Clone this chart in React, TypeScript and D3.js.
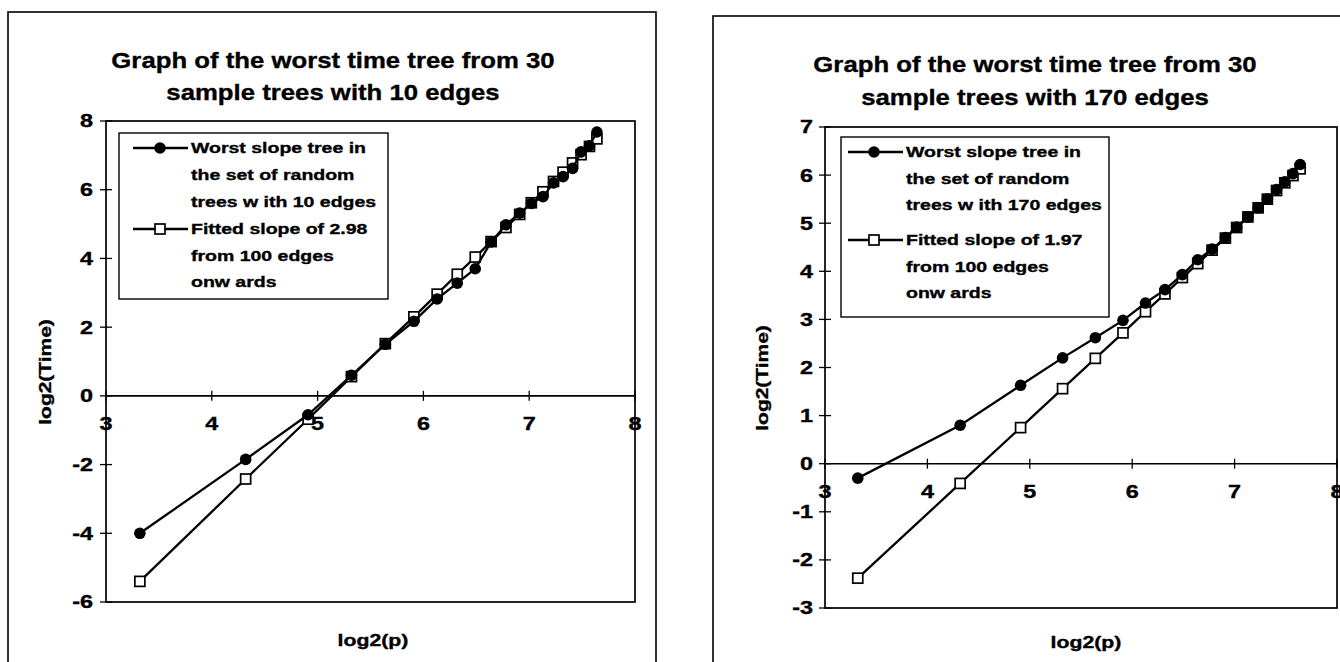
import React from "react";
import * as d3 from "d3";

// ---------- data ----------
const log2P = [3.32, 4.32, 4.91, 5.32, 5.64, 5.91, 6.13, 6.32, 6.49, 6.64, 6.78, 6.91, 7.02, 7.13, 7.23, 7.32, 7.41, 7.49, 7.57, 7.64];

const worst10 = [-4.0, -1.85, -0.55, 0.6, 1.5, 2.17, 2.82, 3.28, 3.7, 4.48, 4.98, 5.32, 5.6, 5.8, 6.2, 6.38, 6.62, 7.1, 7.28, 7.68];
const fitted10 = [-5.4, -2.42, -0.68, 0.56, 1.52, 2.3, 2.96, 3.54, 4.04, 4.49, 4.9, 5.28, 5.62, 5.94, 6.24, 6.51, 6.78, 7.02, 7.26, 7.48];

const worst170 = [-0.3, 0.8, 1.63, 2.2, 2.62, 2.98, 3.34, 3.62, 3.93, 4.24, 4.46, 4.7, 4.92, 5.13, 5.32, 5.5, 5.7, 5.86, 6.03, 6.22];
const fitted170 = [-2.38, -0.41, 0.75, 1.56, 2.19, 2.72, 3.16, 3.53, 3.87, 4.16, 4.44, 4.69, 4.91, 5.13, 5.32, 5.5, 5.68, 5.84, 5.99, 6.13];

const xTicks = [3, 4, 5, 6, 7, 8];
const yTicks10 = [-6, -4, -2, 0, 2, 4, 6, 8];
const yTicks170 = [-3, -2, -1, 0, 1, 2, 3, 4, 5, 6, 7];

const title10 = ["Graph of the worst time tree from 30", "sample trees with 10 edges"];
const title170 = ["Graph of the worst time tree from 30", "sample trees with 170 edges"];

const legendWorst10 = ["Worst slope tree in", "the set of random", "trees w ith 10 edges"];
const legendFit10 = ["Fitted slope of 2.98", "from 100 edges", "onw ards"];
const legendWorst170 = ["Worst slope tree in", "the set of random", "trees w ith 170 edges"];
const legendFit170 = ["Fitted slope of 1.97", "from 100 edges", "onw ards"];

const xTitle = "log2(p)";
const yTitle = "log2(Time)";

// ---------- drawing ----------
const FONT = "'Liberation Sans', Arial, Helvetica, sans-serif";

function SText({ x, y, size, sx, anchor = "middle", rotate = 0, children, weight = "bold" }) {
  return (
    <text
      transform={`translate(${x},${y}) rotate(${rotate}) scale(${sx},1)`}
      textAnchor={anchor}
      dy="0.36em"
      fontFamily={FONT}
      fontWeight={weight}
      fontSize={size}
      fill="#000"
      stroke="#000"
      strokeWidth={0.35}
    >
      {children}
    </text>
  );
}

function Chart({ cfg, worst, fitted, yTicks, title, legWorst, legFit }) {
  const x = d3.scaleLinear().domain([3, 8]).range([cfg.left, cfg.right]);
  const y = d3.scaleLinear().domain(cfg.yDomain).range([cfg.bottom, cfg.top]);
  const line = d3
    .line<number>()
    .x((_, i) => x(log2P[i]))
    .y((d) => y(d));
  const y0 = y(0);
  const sq = 10;
  return (
    <g>
      {/* outer frame */}
      <rect x={cfg.fx} y={cfg.fy} width={cfg.fw} height={cfg.fh} fill="white" stroke="#000" strokeWidth={1.6} />
      {/* title */}
      {title.map((t, i) => (
        <SText key={i} x={cfg.titleX} y={cfg.titleY[i]} size={22} sx={1.17}>
          {t}
        </SText>
      ))}
      {/* plot area */}
      <rect x={cfg.left} y={cfg.top} width={cfg.right - cfg.left} height={cfg.bottom - cfg.top} fill="white" stroke="#000" strokeWidth={1.7} />
      {/* x axis at y=0 */}
      <line x1={cfg.left} x2={cfg.right} y1={y0} y2={y0} stroke="#000" strokeWidth={1.6} />
      {xTicks.map((t) => (
        <g key={t}>
          <line x1={x(t)} x2={x(t)} y1={y0 - 5} y2={y0 + 5} stroke="#000" strokeWidth={1.3} />
          <SText x={x(t)} y={y0 + 28} size={18} sx={1.3}>
            {String(t)}
          </SText>
        </g>
      ))}
      {/* y axis ticks */}
      {yTicks.map((t) => (
        <g key={t}>
          <line x1={cfg.left - 6} x2={cfg.left + 6} y1={y(t)} y2={y(t)} stroke="#000" strokeWidth={1.3} />
          <SText x={cfg.yLabelX} y={y(t)} size={18} sx={1.3} anchor="end">
            {String(t)}
          </SText>
        </g>
      ))}
      {/* axis titles */}
      <SText x={cfg.xTitleX} y={cfg.xTitleY} size={16} sx={1.33}>
        {xTitle}
      </SText>
      <SText x={cfg.yTitleX} y={cfg.yTitleY} size={16} sx={1.31} rotate={-90}>
        {yTitle}
      </SText>
      {/* fitted series */}
      <path d={line(fitted) || ""} fill="none" stroke="#000" strokeWidth={2.3} />
      {fitted.map((v, i) => (
        <rect key={i} x={x(log2P[i]) - sq / 2} y={y(v) - sq / 2} width={sq} height={sq} fill="white" stroke="#000" strokeWidth={1.7} />
      ))}
      {/* worst series */}
      <path d={line(worst) || ""} fill="none" stroke="#000" strokeWidth={2.3} />
      {worst.map((v, i) => (
        <circle key={i} cx={x(log2P[i])} cy={y(v)} r={5.8} fill="#000" />
      ))}
      {/* legend */}
      <rect x={cfg.lx0} y={cfg.ly0} width={cfg.lx1 - cfg.lx0} height={cfg.ly1 - cfg.ly0} fill="white" stroke="#000" strokeWidth={1.4} />
      <line x1={cfg.lLine0} x2={cfg.lLine1} y1={cfg.lRows[0]} y2={cfg.lRows[0]} stroke="#000" strokeWidth={2.3} />
      <circle cx={cfg.lMark} cy={cfg.lRows[0]} r={5.8} fill="#000" />
      <line x1={cfg.lLine0} x2={cfg.lLine1} y1={cfg.lRows[3]} y2={cfg.lRows[3]} stroke="#000" strokeWidth={2.3} />
      <rect x={cfg.lMark - sq / 2} y={cfg.lRows[3] - sq / 2} width={sq} height={sq} fill="white" stroke="#000" strokeWidth={1.7} />
      {[...legWorst, ...legFit].map((t, i) => (
        <SText key={i} x={cfg.lText} y={cfg.lRows[i]} size={15} sx={1.3} anchor="start">
          {t}
        </SText>
      ))}
    </g>
  );
}

const cfg10 = {
  fx: 8, fy: 12, fw: 648, fh: 720,
  left: 106, right: 635, top: 121, bottom: 602, yDomain: [-6, 8],
  titleX: 333, titleY: [60, 92],
  lx0: 119, ly0: 133, lx1: 388, ly1: 299,
  lRows: [148, 175, 202, 229, 256, 282], lLine0: 133, lLine1: 188, lMark: 160, lText: 191,
  yLabelX: 93, xTitleX: 373, xTitleY: 640, yTitleX: 45, yTitleY: 372,
};

const cfg170 = {
  fx: 713, fy: 16, fw: 720, fh: 720,
  left: 825, right: 1337, top: 127, bottom: 608, yDomain: [-3, 7],
  titleX: 1035, titleY: [64, 97],
  lx0: 841, ly0: 137, lx1: 1109, ly1: 317,
  lRows: [152, 179, 205, 240, 267, 293], lLine0: 848, lLine1: 903, lMark: 874, lText: 906,
  yLabelX: 813, xTitleX: 1086, xTitleY: 642, yTitleX: 762, yTitleY: 378,
};

export default function App() {
  return (
    <div style={{ position: "absolute", left: 0, top: 0, width: 1340, height: 662, overflow: "hidden", background: "white" }}>
      <svg width={1340} height={662} viewBox="0 0 1340 662" style={{ display: "block" }}>
        <rect width={1340} height={662} fill="white" />
        <Chart cfg={cfg10} worst={worst10} fitted={fitted10} yTicks={yTicks10} title={title10} legWorst={legendWorst10} legFit={legendFit10} />
        <Chart cfg={cfg170} worst={worst170} fitted={fitted170} yTicks={yTicks170} title={title170} legWorst={legendWorst170} legFit={legendFit170} />
      </svg>
    </div>
  );
}
